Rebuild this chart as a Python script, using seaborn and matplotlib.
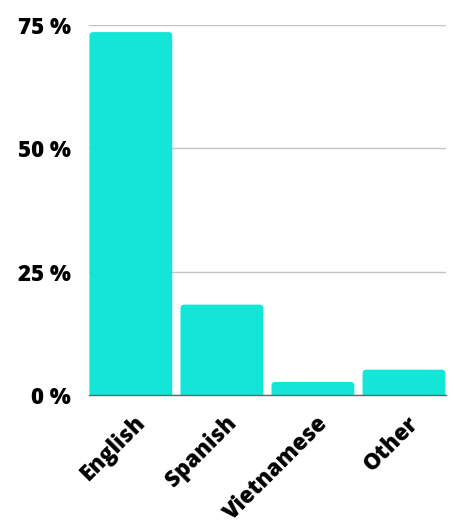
import matplotlib
matplotlib.use("Agg")
import pandas as pd
import seaborn as sns
import matplotlib.pyplot as plt
import matplotlib.transforms as mtransforms
from matplotlib.patches import FancyBboxPatch

languages = ["English", "Spanish", "Vietnamese", "Other"]
shares = [73.6, 18.3, 2.6, 5.1]
yticks = [0, 25, 50, 75]
ytick_labels = ["0 %", "25 %", "50 %", "75 %"]

df = pd.DataFrame({"language": languages, "share": shares})

sns.set_theme(style="white")
plt.rcParams["font.family"] = ["Open Sans", "DejaVu Sans"]

fig = plt.figure(figsize=(4.54, 5.25), dpi=100)
ax = fig.add_axes([0.196, 0.248, 0.786, 0.704])

sns.barplot(data=df, x="language", y="share", color="#13e5d6",
            saturation=1, width=0.91, ax=ax)

# swap plain bars for ones with rounded top corners
# (box starts below zero so the bottom corners are clipped away)
for bar in list(ax.patches):
    x, y = bar.get_x(), bar.get_y()
    w, h = bar.get_width(), bar.get_height()
    bar.remove()
    ax.add_patch(FancyBboxPatch((x, y - 2), w, h + 2,
                                boxstyle="round,pad=0,rounding_size=0.04",
                                mutation_aspect=80 / 4,
                                facecolor="#13e5d6", edgecolor="none",
                                linewidth=0, zorder=2))

ax.set_xlim(-0.46, 3.46)
ax.set_ylim(0, 75)
ax.set_yticks(yticks)
ax.set_yticklabels(ytick_labels, fontsize=16, fontweight=800, color="black")
ax.yaxis.grid(True, color="#c4c4c4", linewidth=1)
ax.set_axisbelow(True)
ax.set_xlabel("")
ax.set_ylabel("")
ax.tick_params(axis="y", length=0, pad=13)
ax.tick_params(axis="x", length=0, pad=18)
shift = mtransforms.ScaledTranslation(8 / 72, 0, fig.dpi_scale_trans)
for lbl in ax.get_xticklabels():
    lbl.set_rotation(45)
    lbl.set_ha("right")
    lbl.set_va("center")
    lbl.set_rotation_mode("anchor")
    lbl.set_fontsize(16)
    lbl.set_fontweight(800)
    lbl.set_color("black")
    lbl.set_transform(lbl.get_transform() + shift)

for side in ["left", "right", "top"]:
    ax.spines[side].set_visible(False)
ax.spines["bottom"].set_color("#666666")
ax.spines["bottom"].set_linewidth(1)
ax.spines["bottom"].set_zorder(3)

fig.savefig("out.png", dpi=100)
